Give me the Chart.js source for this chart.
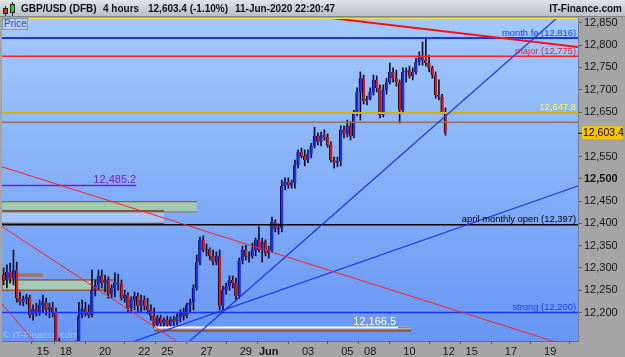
<!DOCTYPE html>
<html>
<head>
<meta charset="utf-8">
<script src="https://cdn.jsdelivr.net/npm/chart.js@4.4.1/dist/chart.umd.min.js"></script>
<style>
html,body{margin:0;padding:0;background:#a5a5a5;overflow:hidden}
#wrap{width:625px;height:357px}
canvas{display:block}
</style>
</head>
<body>
<div id="wrap"><canvas id="c" width="625" height="357"></canvas></div>
<script>
// ---- 4-hour candles, GBP/USD (DFB), 13-May-2020 .. 11-Jun-2020 (one entry per bar slot) ----
const opens = [
  12284,12273,12291,12277,12295,12232,12223,12230,12235,12194,
  12208,12201,12217,12223,12206,12212,12201,12132,12116,12111,
  12118,12123,12127,12129,12194,12208,12201,12194,12250,12262,
  12282,12266,12273,12241,12255,12268,12264,12232,12239,12210,
  12228,12237,12215,12228,12215,12206,12192,12172,12188,12176,
  12183,12172,12185,12179,12190,12199,12192,12217,12223,12255,
  12313,12363,12340,12342,12327,12313,12327,12215,12250,12259,
  12273,12266,12237,12316,12340,12325,12327,12340,12363,12340,
  12358,12333,12340,12403,12387,12390,12484,12493,12486,12491,
  12531,12560,12551,12542,12556,12574,12596,12583,12598,12594,
  12576,12542,12536,12540,12610,12601,12619,12596,12646,12695,
  12726,12675,12679,12695,12722,12704,12643,12699,12717,12740,
  12726,12717,12654,12740,12744,12731,12740,12762,12773,12767,
  12760,12749,12733,12688,12684,12650
];
const highs = [
  12300,12307,12311,12340,12313,12246,12237,12241,12239,12217,
  12221,12228,12239,12232,12221,12223,12210,12143,12127,12125,
  12129,12132,12136,12223,12228,12223,12217,12295,12273,12295,
  12295,12284,12280,12262,12289,12286,12273,12250,12244,12235,
  12246,12244,12239,12237,12232,12217,12210,12194,12194,12188,
  12192,12190,12192,12197,12206,12210,12221,12230,12262,12329,
  12369,12372,12354,12345,12340,12336,12340,12259,12266,12282,
  12282,12277,12322,12349,12351,12336,12356,12367,12392,12367,
  12363,12349,12414,12408,12399,12497,12502,12502,12497,12542,
  12565,12569,12565,12565,12580,12616,12603,12605,12610,12601,
  12583,12549,12549,12619,12619,12632,12628,12654,12704,12740,
  12733,12686,12704,12733,12731,12711,12711,12726,12760,12749,
  12744,12722,12749,12749,12753,12749,12771,12785,12807,12818,
  12778,12753,12740,12722,12690,12659
];
const lows = [
  12262,12255,12266,12262,12223,12217,12215,12219,12188,12183,
  12192,12194,12199,12194,12188,12190,12127,12105,12102,12098,
  12105,12102,12116,12120,12188,12192,12188,12190,12237,12250,
  12255,12246,12232,12232,12235,12250,12228,12223,12201,12199,
  12206,12201,12201,12206,12197,12183,12165,12165,12167,12165,
  12167,12165,12170,12172,12179,12183,12188,12201,12206,12250,
  12307,12336,12327,12318,12307,12307,12206,12206,12241,12250,
  12255,12228,12232,12309,12318,12313,12322,12327,12336,12313,
  12327,12322,12336,12381,12376,12381,12475,12479,12479,12479,
  12524,12547,12529,12536,12547,12569,12576,12574,12587,12571,
  12538,12524,12527,12529,12592,12594,12587,12592,12641,12632,
  12668,12666,12677,12688,12695,12637,12639,12690,12713,12717,
  12708,12625,12650,12717,12726,12722,12735,12755,12755,12753,
  12740,12726,12681,12677,12646,12598
];
const closes = [
  12273,12291,12277,12295,12232,12223,12230,12235,12194,12208,
  12201,12217,12223,12206,12212,12201,12132,12116,12111,12118,
  12123,12127,12129,12192,12208,12201,12194,12250,12262,12282,
  12266,12273,12241,12255,12268,12264,12232,12239,12210,12228,
  12237,12215,12228,12215,12206,12192,12172,12188,12176,12183,
  12172,12185,12179,12190,12199,12192,12217,12223,12255,12313,
  12363,12340,12342,12327,12313,12327,12215,12250,12259,12273,
  12266,12237,12316,12340,12325,12327,12340,12363,12340,12358,
  12333,12340,12403,12387,12390,12484,12493,12486,12491,12531,
  12560,12551,12542,12556,12574,12596,12583,12598,12594,12576,
  12542,12536,12540,12610,12601,12619,12596,12646,12695,12726,
  12675,12679,12695,12722,12704,12643,12699,12717,12740,12726,
  12717,12654,12740,12744,12731,12740,12762,12773,12767,12760,
  12749,12733,12688,12684,12650,12603.4
];

// ---- axis ticks ----
const tickSlots  = [12, 19, 31, 43, 50, 62, 74, 81, 93, 105, 112, 124, 136, 143, 155, 167];
const tickLabels = ['15','18','20','22','25','27','29','Jun','03','05','08','10','12','15','17','19'];
const yTicks = [12200,12250,12300,12350,12400,12450,12500,12550,12600,12650,12700,12750,12800,12850];
const slotCount = 176;
const yMin = 12136, yMax = 12861;

// ---- full-width levels ----
const levelValues = [12816, 12775, 12647.8, 12627, 12397, 12200];
const levelLabels = ['month fe (12,816)', 'major (12,775)', '12,647.8', '', 'april monthly open (12,397)', 'strong (12,200)'];

// ---- partial levels (value, from slot, to slot) ----
const markValues = [12485.2, 12166.5, 12159];
const markFrom   = [-0.5, 46, 46];
const markTo     = [40.5, 124.5, 124.5];
const markLabels = ['12,485.2', '12,166.5', ''];

// ---- trend lines [slot, price] ----
const trendFrom = [[-0.5,12527], [-0.5,12393], [-0.5,12219], [90.6,12869], [53.3,12113], [38.6,12132]];
const trendTo   = [[175.5,12118], [60,12101],  [11.1,12120],  [175.5,12796], [170,12867], [175.5,12484]];

// ---- zones ----
const zoneLow  = [12426, 12400, 12250];
const zoneHigh = [12449, 12426, 12273];
const zoneTo   = [59, 49, 34];
const minorValues = [12286, 12282];
const minorTo = 12;

// ---- styles (not data) ----
const FONT = '"Liberation Sans", Arial, Helvetica, sans-serif';
const levelColors = ['#1636ff', '#ff2222', '#dcb000', '#8c7464', '#000000', '#1636ff'];
const levelWidths = [2, 1.5, 2, 1.5, 1.5, 1.5];
const levelTextColors = ['#1a3cff', '#ff1a1a', '#ffff33', '#000', '#000000', '#1a3cff'];
const trendColors = ['#ff2020', '#ff2020', '#ff2020', '#ff1010', '#1a2cff', '#1a2cff'];
const trendWidths = [1, 1, 1, 2, 1.2, 1.2];
const markColors = ['#7024c4', '#ffffff', '#a0521e'];

const idx = opens.map((_, i) => i);
const datasets = [
  { type: 'bar', data: idx.map(i => ({x: i, y: [lows[i], highs[i]]})),
    backgroundColor: '#0b0b2a', barThickness: 1, grouped: false, order: 30 },
  { type: 'bar', data: idx.map(i => ({x: i, y: [opens[i], closes[i]]})),
    backgroundColor: idx.map(i => closes[i] >= opens[i] ? '#1e2ef2' : '#d41a1a'),
    borderColor: '#050505', borderWidth: {left: 1, right: 0, top: 0, bottom: 0}, borderSkipped: false,
    barThickness: 3, grouped: false, order: 29 }
];
levelValues.forEach((v, i) => datasets.push({
  type: 'line', data: [{x: -0.5, y: v}, {x: slotCount - 0.5, y: v}],
  borderColor: levelColors[i], borderWidth: levelWidths[i], pointRadius: 0, tension: 0, order: 5 + i
}));
markValues.forEach((v, i) => datasets.push({
  type: 'line', data: [{x: markFrom[i], y: v}, {x: markTo[i], y: v}],
  borderColor: markColors[i], borderWidth: i === 0 ? 1.5 : 2, pointRadius: 0, tension: 0, order: 3
}));
trendFrom.forEach((p, i) => datasets.push({
  type: 'line', data: [{x: p[0], y: p[1]}, {x: trendTo[i][0], y: trendTo[i][1]}],
  borderColor: trendColors[i], borderWidth: trendWidths[i], pointRadius: 0, tension: 0, order: 2
}));

const framePlugin = {
  id: 'frame',
  beforeDraw(chart) {
    const {ctx, chartArea: a, width, height} = chart;
    ctx.save();
    ctx.fillStyle = '#a5a5a5';
    ctx.fillRect(0, 0, width, height);
    const tg = ctx.createLinearGradient(0, 0, 0, 17);
    tg.addColorStop(0, '#e0e3e7'); tg.addColorStop(1, '#b7bdc5');
    ctx.fillStyle = tg; ctx.fillRect(0, 0, width, 17);
    ctx.fillStyle = '#7f858d'; ctx.fillRect(0, 16, width, 1);
    const pg = ctx.createLinearGradient(0, a.top, 0, a.bottom);
    pg.addColorStop(0, '#a3c9fd'); pg.addColorStop(1, '#6796f4');
    ctx.fillStyle = pg; ctx.fillRect(a.left, a.top, a.right - a.left, a.bottom - a.top);
    ctx.restore();
  },
  beforeDatasetsDraw(chart) {
    const {ctx, chartArea: a, scales} = chart;
    const X = v => scales.x.getPixelForValue(v);
    const Y = v => scales.y.getPixelForValue(v);
    ctx.save();
    ctx.beginPath(); ctx.rect(a.left, a.top, a.right - a.left, a.bottom - a.top); ctx.clip();
    const x0 = X(-0.5);
    ctx.fillStyle = '#a2c9b3';
    ctx.fillRect(x0, Y(zoneHigh[0]), X(zoneTo[0]) - x0, Y(zoneLow[0]) - Y(zoneHigh[0]));
    ctx.fillStyle = 'rgba(215,232,255,0.45)';
    ctx.fillRect(x0, Y(zoneHigh[1]), X(zoneTo[1]) - x0, Y(zoneLow[1]) - Y(zoneHigh[1]));
    ctx.fillStyle = '#a4cab6';
    ctx.fillRect(x0, Y(zoneHigh[2]), X(zoneTo[2] - 6.5) - x0, Y(zoneLow[2]) - Y(zoneHigh[2]));
    const hl = (v, xa, xb, col, w) => { ctx.strokeStyle = col; ctx.lineWidth = w; ctx.beginPath(); ctx.moveTo(xa, Y(v)); ctx.lineTo(xb, Y(v)); ctx.stroke(); };
    hl(zoneHigh[0], x0, X(zoneTo[0]), '#86644a', 1.2);
    hl(zoneLow[0], x0, X(zoneTo[0]), '#8f7c68', 1.2);
    hl(zoneLow[0] + 2, x0, X(zoneTo[1]), '#6a2e10', 1.2);
    hl(zoneLow[1], x0, X(zoneTo[1]), '#7e4a22', 1.2);
    ctx.strokeStyle = '#8a4c1c'; ctx.lineWidth = 1.2;
    ctx.strokeRect(x0, Y(zoneHigh[2]), X(zoneTo[2]) - x0, Y(zoneLow[2]) - Y(zoneHigh[2]));
    minorValues.forEach(v => hl(v, x0, X(minorTo), '#c2601a', 1.2));
    ctx.font = '9.5px ' + FONT;
    ctx.fillStyle = 'rgba(205,218,248,0.6)';
    ctx.textBaseline = 'middle'; ctx.textAlign = 'left';
    ctx.fillText('\u00A9 IT-Finance.com', a.left + 1, a.bottom - 6);
    ctx.restore();
  },
  afterDatasetsDraw(chart) {
    const {ctx, chartArea: a, scales} = chart;
    const X = v => scales.x.getPixelForValue(v);
    const Y = v => scales.y.getPixelForValue(v);
    ctx.save();
    ctx.beginPath(); ctx.rect(a.left, a.top, a.right - a.left, a.bottom - a.top); ctx.clip();
    ctx.strokeStyle = '#eee04a'; ctx.lineWidth = 1;
    ctx.beginPath(); ctx.moveTo(a.left, a.top + 0.5); ctx.lineTo(a.right, a.top + 0.5); ctx.stroke();
    ctx.textAlign = 'right'; ctx.textBaseline = 'alphabetic';
    levelLabels.forEach((t, i) => {
      if (!t) return;
      ctx.font = '9.4px ' + FONT;
      ctx.fillStyle = levelTextColors[i];
      ctx.fillText(t, a.right - 2, Y(levelValues[i]) - 2.5);
    });
    ctx.font = '11px ' + FONT;
    ctx.fillStyle = markColors[0];
    ctx.fillText(markLabels[0], X(markTo[0]), Y(markValues[0]) - 2.5);
    ctx.fillStyle = '#ffffff';
    ctx.fillText(markLabels[1], X(markTo[1]) - 15, Y(markValues[1]) - 2.5);
    ctx.strokeStyle = '#8a8a8a'; ctx.lineWidth = 2;
    ctx.beginPath(); ctx.moveTo(X(markTo[1]) - 13, Y(markValues[1])); ctx.lineTo(X(markTo[1]), Y(markValues[1])); ctx.stroke();
    ctx.restore();
    ctx.save();
    ctx.fillStyle = '#bccde6'; ctx.fillRect(2, a.top, 26, 12);
    ctx.strokeStyle = '#8796aa'; ctx.lineWidth = 1; ctx.strokeRect(2.5, a.top + 0.5, 25, 11);
    ctx.fillStyle = '#2a4cd0'; ctx.font = '10px ' + FONT; ctx.textAlign = 'left'; ctx.textBaseline = 'middle';
    ctx.fillText('Price', 4, a.top + 6.5);
    ctx.restore();
  },
  afterDraw(chart) {
    const {ctx, chartArea: a, scales, width} = chart;
    ctx.save();
    ctx.fillStyle = '#111'; ctx.font = 'bold 10px ' + FONT; ctx.textBaseline = 'middle'; ctx.textAlign = 'left';
    ctx.fillText('GBP/USD (DFB)', 21, 9);
    ctx.fillText('4 hours', 103, 9);
    ctx.fillText('12,603.4 (-1.10%)', 148, 9);
    ctx.fillText('11-Jun-2020 22:20:47', 235, 9);
    ctx.textAlign = 'right';
    ctx.fillText('IT-Finance.com', width - 3, 9);
    ctx.strokeStyle = '#222'; ctx.lineWidth = 1;
    ctx.beginPath(); ctx.moveTo(5.5, 6); ctx.lineTo(5.5, 16); ctx.moveTo(12.5, 2); ctx.lineTo(12.5, 16); ctx.stroke();
    ctx.fillStyle = '#e03030'; ctx.fillRect(3, 8, 5, 6); ctx.strokeRect(3.5, 8.5, 4, 5);
    ctx.fillStyle = '#30c030'; ctx.fillRect(10, 4, 5, 9); ctx.strokeRect(10.5, 4.5, 4, 8);
    const py = scales.y.getPixelForValue(closes[closes.length - 1]);
    ctx.fillStyle = '#a5a5a5'; ctx.fillRect(a.right + 1, py - 8, width - a.right - 1, 16);
    ctx.fillStyle = '#ffc400'; ctx.fillRect(a.right + 4, py - 6.5, 41, 13);
    ctx.strokeStyle = '#111'; ctx.beginPath(); ctx.moveTo(a.right, py + 0.5); ctx.lineTo(a.right + 4, py + 0.5); ctx.stroke();
    ctx.fillStyle = '#000'; ctx.font = '10.5px ' + FONT; ctx.textAlign = 'left';
    ctx.fillText('12,603.4', a.right + 5, py + 0.5);
    ctx.restore();
  }
};

new Chart(document.getElementById('c'), {
  type: 'bar',
  data: { datasets },
  options: {
    responsive: false, animation: false, devicePixelRatio: 1,
    layout: { padding: { top: 18, left: 2, right: 0, bottom: 0 } },
    plugins: { legend: { display: false }, tooltip: { enabled: false } },
    scales: {
      x: {
        type: 'linear', min: -0.5, max: slotCount - 0.5, offset: false,
        afterBuildTicks: s => { s.ticks = tickSlots.map(v => ({ value: v })); },
        afterFit: s => { s.height = 16; },
        ticks: {
          autoSkip: false, maxRotation: 0, minRotation: 0, padding: 1, color: '#151515',
          font: ctx => ({ family: FONT, size: 11, weight: tickLabels[ctx.index] === 'Jun' ? 'bold' : 'normal' }),
          callback: (v, i) => tickLabels[i]
        },
        grid: { drawOnChartArea: false, drawTicks: true, tickLength: 3, color: '#5a5a5a' },
        border: { display: true, color: '#6f6f6f' }
      },
      y: {
        type: 'linear', position: 'right', min: yMin, max: yMax,
        afterBuildTicks: s => { s.ticks = yTicks.map(v => ({ value: v })); },
        afterFit: s => { s.width = 47; },
        ticks: {
          padding: 2, color: '#151515',
          font: ctx => ({ family: FONT, size: 11, weight: (ctx.tick && ctx.tick.value === 12500) ? 'bold' : 'normal' }),
          callback: v => Number(v).toLocaleString('en-US')
        },
        grid: { drawOnChartArea: false, drawTicks: true, tickLength: 4, color: '#5a5a5a' },
        border: { display: true, color: '#7a7a7a' }
      }
    }
  },
  plugins: [framePlugin]
});
</script>
</body>
</html>
